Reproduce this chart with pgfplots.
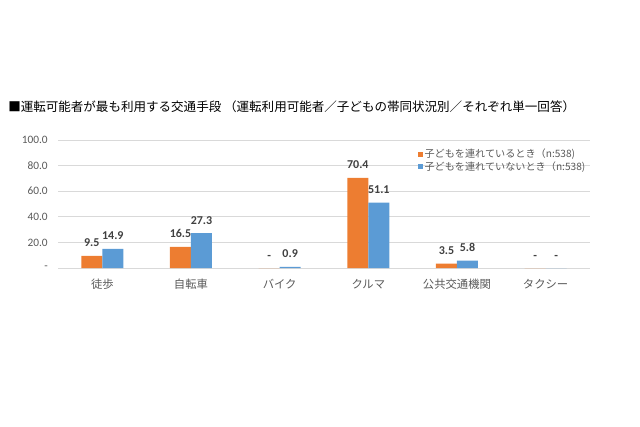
\documentclass[border=0pt]{standalone}
\usepackage{fontspec}
\usepackage{pgfplots}
\pgfplotsset{compat=1.18}
\setmainfont{Carlito}
\newfontfamily\jp{Noto Sans CJK JP}
\definecolor{cOrange}{HTML}{ED7D31}
\definecolor{cBlue}{HTML}{5B9BD5}
\definecolor{cGrid}{HTML}{D9D9D9}
\definecolor{cTick}{HTML}{595959}
\definecolor{cLab}{HTML}{404040}
\begin{document}
\begin{tikzpicture}[x=0.75pt,y=0.75pt]
\useasboundingbox (0,0) rectangle (640,426);
\node[anchor=west,inner sep=0pt,font=\jp\fontsize{9.4}{11}\selectfont] at (8,319) {■運転可能者が最も利用する交通手段 （運転利用可能者／子どもの帯同状況別／それぞれ単一回答）};
\begin{axis}[
  at={(43.5pt,118.5pt)}, anchor=south west,
  scale only axis, width=399pt, height=96pt,
  xmin=-0.5, xmax=5.5, ymin=0, ymax=100,
  enlargelimits=false,
  ybar=0pt, bar width=15.75pt,
  axis line style={draw=none},
  major tick length=0pt,
  ymajorgrids, grid style={cGrid, line width=0.75pt},
  ytick={0,20,40,60,80,100},
  yticklabels={-,20.0,40.0,60.0,80.0,100.0},
  yticklabel style={inner sep=0pt, xshift=-7.5pt, font=\fontsize{8.5}{10}\selectfont, text=cTick},
  xtick={0,1,2,3,4,5},
  xticklabels={徒歩,自転車,バイク,クルマ,公共交通機関,タクシー},
  xticklabel style={anchor=base, inner sep=0pt, yshift=-15pt, font=\jp\fontsize{8.5}{10}\selectfont, text=cTick},
  point meta=explicit symbolic,
  nodes near coords,
  every node near coord/.append style={anchor=south, inner sep=0pt, yshift=6.5pt, font=\bfseries\fontsize{9}{10}\selectfont, text=cLab},
  clip=false,
  legend style={at={(0.669,0.965)}, anchor=north west, draw=none, fill=none,
    font=\jp\fontsize{7.6}{7.6}\selectfont, text=cTick, row sep=-0.5pt,
    nodes={inner sep=1pt}},
  legend cell align=left,
  legend image code/.code={\fill[#1] (0pt,-1.9pt) rectangle (3.8pt,1.9pt);},
]
\addplot[fill=cOrange, draw=none] coordinates {(0,9.5)[9.5] (1,16.5)[16.5] (2,0)[-] (3,70.4)[70.4] (4,3.5)[3.5] (5,0)[-]};
\addplot[fill=cBlue, draw=none] coordinates {(0,14.9)[14.9] (1,27.3)[27.3] (2,0.9)[0.9] (3,51.1)[51.1] (4,5.8)[5.8] (5,0)[-]};
\legend{子どもを連れているとき（n:538),子どもを連れていないとき（n:538)}
\end{axis}
\end{tikzpicture}
\end{document}
